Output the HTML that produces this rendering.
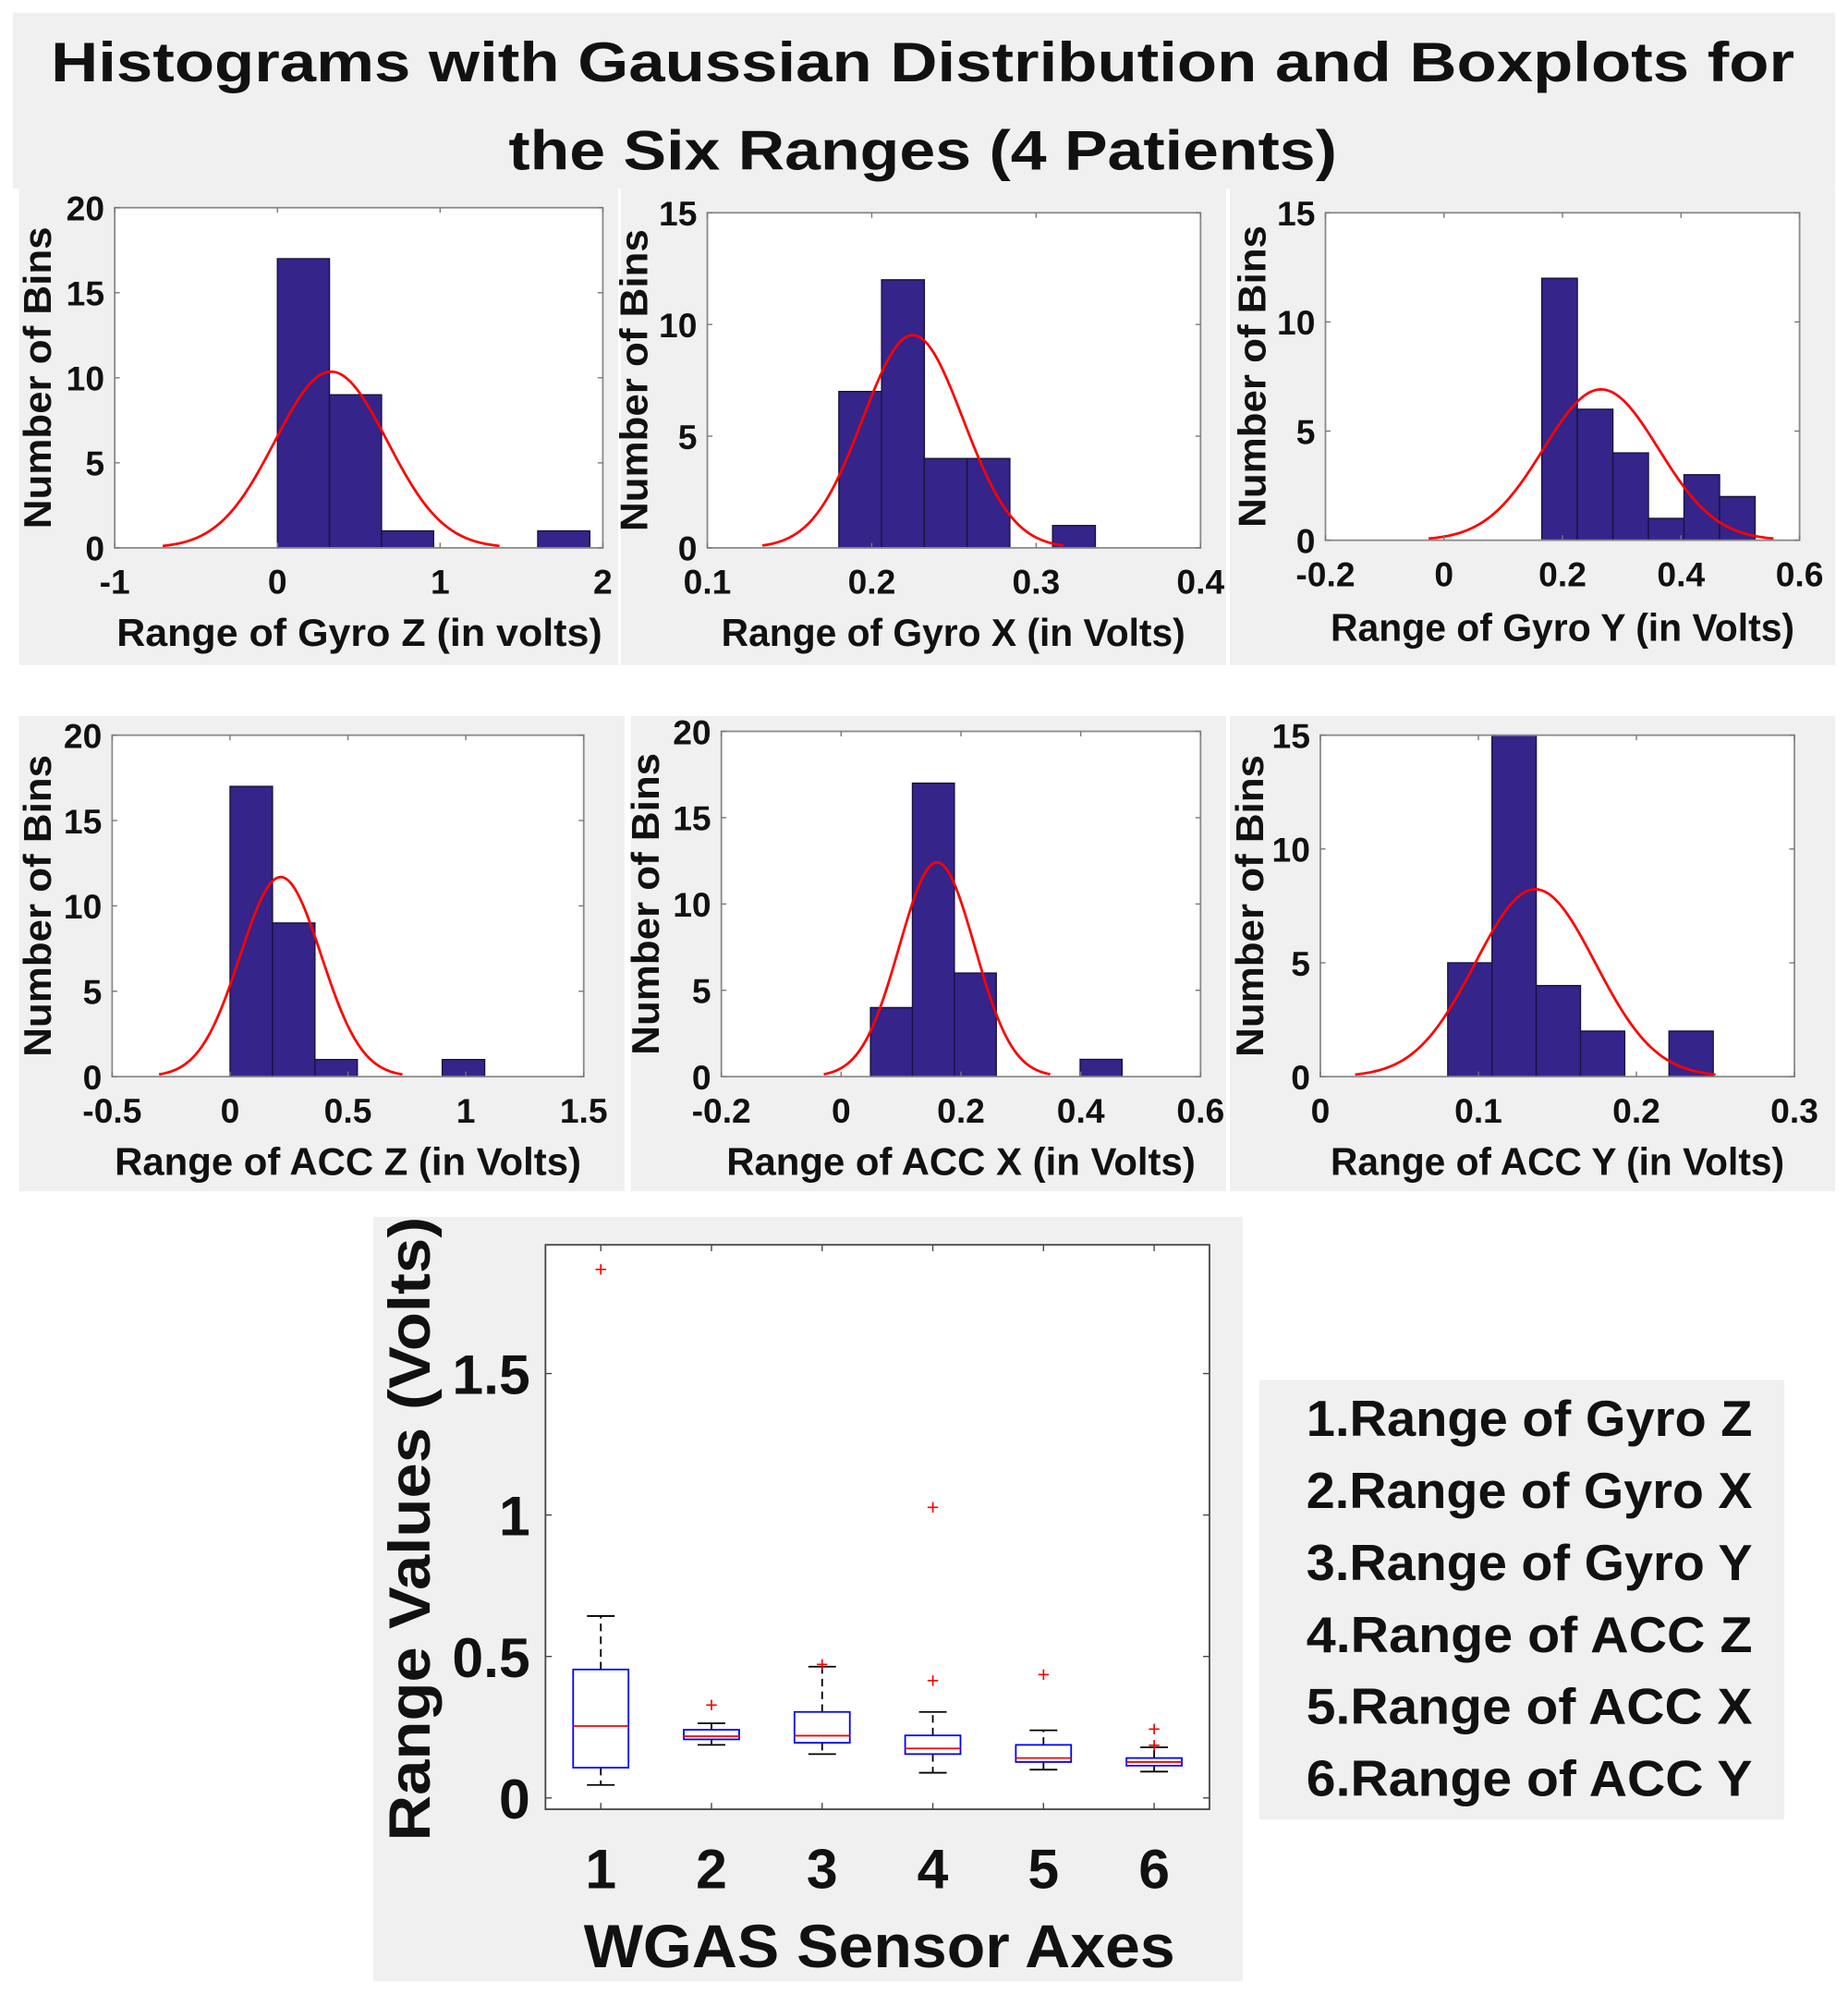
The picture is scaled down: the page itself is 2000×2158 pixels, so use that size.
<!DOCTYPE html>
<html><head><meta charset="utf-8"><style>
html,body{margin:0;padding:0;background:#fff;}
svg{display:block;}
text{font-family:"Liberation Sans",Arial,sans-serif;font-weight:bold;fill:#111;}
</style></head><body>
<svg id="fig" width="2000" height="2158" viewBox="0 0 1450 1565" preserveAspectRatio="none" xmlns="http://www.w3.org/2000/svg">
<rect x="10" y="10" width="1430" height="138" fill="#f0f0f0"/>
<text x="724" y="64" text-anchor="middle" font-size="44" textLength="1368" lengthAdjust="spacingAndGlyphs">Histograms with Gaussian Distribution and Boxplots for</text>
<text x="724" y="133" text-anchor="middle" font-size="44" textLength="650" lengthAdjust="spacingAndGlyphs">the Six Ranges (4 Patients)</text>
<rect x="988" y="1083" width="412" height="345" fill="#f0f0f0"/>
<g id="legend"></g>
</svg>
<script>
// ---- Histogram data ----
const binStarts = [0, 0.18, 0.165, 0, 0.049, 0.0806];
const binWidths = [0.32, 0.026, 0.06, 0.18, 0.07, 0.028];
const counts1 = [17, 9, 1, 0, 0, 1];
const counts2 = [7, 12, 4, 4, 0, 1];
const counts3 = [12, 6, 4, 1, 3, 2];
const counts4 = [17, 9, 1, 0, 0, 1];
const counts5 = [4, 17, 6, 0, 0, 1];
const counts6 = [5, 15, 4, 2, 0, 2];
const fitMu = [0.33, 0.225, 0.265, 0.215, 0.16, 0.136];
const fitSigma = [0.345, 0.0305, 0.097, 0.172, 0.063, 0.038];
const xTicks1 = [-1, 0, 1, 2];
const xTicks2 = [0.1, 0.2, 0.3, 0.4];
const xTicks3 = [-0.2, 0, 0.2, 0.4, 0.6];
const xTicks4 = [-0.5, 0, 0.5, 1, 1.5];
const xTicks5 = [-0.2, 0, 0.2, 0.4, 0.6];
const xTicks6 = [0, 0.1, 0.2, 0.3];
const yTicks1 = [0, 5, 10, 15, 20];
const yTicks2 = [0, 5, 10, 15];
const yTicks3 = [0, 5, 10, 15];
const yTicks4 = [0, 5, 10, 15, 20];
const yTicks5 = [0, 5, 10, 15, 20];
const yTicks6 = [0, 5, 10, 15];
const xLabels = ["Range of Gyro Z (in volts)", "Range of Gyro X (in Volts)", "Range of Gyro Y (in Volts)",
  "Range of ACC Z (in Volts)", "Range of ACC X (in Volts)", "Range of ACC Y (in Volts)"];
// ---- Boxplot data ----
const boxCategories = ["1", "2", "3", "4", "5", "6"];
const whiskerLow = [0.046, 0.1875, 0.155, 0.089, 0.1, 0.093];
const q1Values = [0.107, 0.207, 0.195, 0.155, 0.127, 0.114];
const medians = [0.254, 0.218, 0.22, 0.175, 0.141, 0.127];
const q3Values = [0.454, 0.241, 0.304, 0.221, 0.1875, 0.141];
const whiskerHigh = [0.643, 0.264, 0.464, 0.304, 0.239, 0.179];
const outliers = [[1.87], [0.33], [0.473], [0.416, 1.029], [0.4375], [0.1875, 0.245]];
const boxYTicks = [0, 0.5, 1, 1.5];
const legendItems = ["1.Range of Gyro Z", "2.Range of Gyro X", "3.Range of Gyro Y", "4.Range of ACC Z", "5.Range of ACC X", "6.Range of ACC Y"];

const NS = "http://www.w3.org/2000/svg";
const fig = document.getElementById("fig");
function mk(tag, attrs, parent) {
  const e = document.createElementNS(NS, tag);
  for (const k in attrs) e.setAttribute(k, attrs[k]);
  (parent || fig).appendChild(e);
  return e;
}
const counts = [counts1, counts2, counts3, counts4, counts5, counts6];
const xTicks = [xTicks1, xTicks2, xTicks3, xTicks4, xTicks5, xTicks6];
const yTicks = [yTicks1, yTicks2, yTicks3, yTicks4, yTicks5, yTicks6];
const panelBg = [[15,148,470,374],[487,148,475,374],[965,148,475,374],[15,562,475,373],[495,562,467,373],[965,562,475,373]];
const plotRect = [[90,163,473,430],[555,167,942,430],[1040,167,1412,424],[88,577,458,845],[566,574,942,845],[1036,577,1408,845]];
const xLabelPos = [[282,507],[748,507],[1226,503],[273,922],[754,922],[1222,922]];
const xLabelLen = [381, 364, 364, 366, 368, 356];
const yLabelX = [40, 508, 993, 40, 517, 991];

for (let p = 0; p < 6; p++) {
  const g = mk("g", {});
  
  
  const bg = mk("rect", {x: panelBg[p][0], y: panelBg[p][1], width: panelBg[p][2], height: panelBg[p][3], fill: "#f0f0f0"}, g);
  
  
  const [L, T, R, B] = plotRect[p];
  const xt = xTicks[p], yt = yTicks[p];
  const x0 = xt[0], x1 = xt[xt.length - 1], y0 = yt[0], y1 = yt[yt.length - 1];
  const sx = v => L + (v - x0) / (x1 - x0) * (R - L);
  const sy = v => B - (v - y0) / (y1 - y0) * (B - T);
  const area = mk("rect", {x: L, y: T, width: R - L, height: B - T, fill: "#fff"}, g);
  
  
  const c = counts[p];
  let n = 0;
  c.forEach((v, i) => {
    n += v;
    if (v <= 0) return;
    const a = binStarts[p] + i * binWidths[p], b = a + binWidths[p];
    const r = mk("rect", {x: sx(a), y: sy(v), width: sx(b) - sx(a), height: sy(0) - sy(v), fill: "#352489", stroke: "#1a1240", "stroke-width": 1}, g);
    
    
  });
  const mu = fitMu[p], sd = fitSigma[p];
  const amp = n * binWidths[p] / (sd * Math.sqrt(2 * Math.PI));
  let d = "";
  for (let k = 0; k <= 120; k++) {
    const xv = mu - 3 * sd + 6 * sd * k / 120;
    const yv = amp * Math.exp(-0.5 * ((xv - mu) / sd) ** 2);
    d += (k ? "L" : "M") + sx(xv).toFixed(2) + "," + sy(yv).toFixed(2);
  }
  const curve = mk("path", {d: d, fill: "none", stroke: "#ff0000", "stroke-width": 2}, g);
  
  
  const frame = mk("rect", {x: L, y: T, width: R - L, height: B - T, fill: "none", stroke: "#8a8a8a", "stroke-width": 1.3}, g);
  
  
  xt.forEach(v => {
    mk("line", {x1: sx(v), x2: sx(v), y1: B, y2: B - 4, stroke: "#777"}, g);
    mk("line", {x1: sx(v), x2: sx(v), y1: T, y2: T + 4, stroke: "#777"}, g);
    const t = mk("text", {x: sx(v), y: B + 36, "text-anchor": "middle", "font-size": 27}, g);
    t.textContent = String(v);
    
    
  });
  yt.forEach(v => {
    mk("line", {x1: L, x2: L + 4, y1: sy(v), y2: sy(v), stroke: "#777"}, g);
    mk("line", {x1: R, x2: R - 4, y1: sy(v), y2: sy(v), stroke: "#777"}, g);
    const t = mk("text", {x: L - 8, y: sy(v) + 10, "text-anchor": "end", "font-size": 27}, g);
    t.textContent = String(v);
    
    
  });
  const xl = mk("text", {x: xLabelPos[p][0], y: xLabelPos[p][1], "text-anchor": "middle", "font-size": 30, textLength: xLabelLen[p], lengthAdjust: "spacingAndGlyphs"}, g);
  xl.textContent = xLabels[p];
  
  
  const cy = (T + B) / 2;
  const yl = mk("text", {x: yLabelX[p], y: cy, "text-anchor": "middle", "font-size": 30, textLength: 237, lengthAdjust: "spacingAndGlyphs", transform: "rotate(-90 " + yLabelX[p] + " " + cy + ")"}, g);
  yl.textContent = "Number of Bins";
  
  
}

// ---- Boxplot ----
(function () {
  const g = mk("g", {});
  
  
  const bg = mk("rect", {x: 293, y: 955, width: 682, height: 600, fill: "#f0f0f0"}, g);
  
  
  const L = 428, R = 949, T = 977, B = 1420;
  const xmin = 0.5, xmax = 6.5, ymin = -0.04, ymax = 1.955;
  const sx = v => L + (v - xmin) / (xmax - xmin) * (R - L);
  const sy = v => B - (v - ymin) / (ymax - ymin) * (B - T);
  const area = mk("rect", {x: L, y: T, width: R - L, height: B - T, fill: "#fff", stroke: "#444", "stroke-width": 1.3}, g);
  
  
  boxYTicks.forEach(v => {
    mk("line", {x1: L, x2: L + 5, y1: sy(v), y2: sy(v), stroke: "#444"}, g);
    mk("line", {x1: R, x2: R - 5, y1: sy(v), y2: sy(v), stroke: "#444"}, g);
    const t = mk("text", {x: L - 12, y: sy(v) + 16, "text-anchor": "end", "font-size": 44}, g);
    t.textContent = String(v);
    
    
  });
  boxCategories.forEach((c, i) => {
    const x = sx(i + 1);
    mk("line", {x1: x, x2: x, y1: B, y2: B - 5, stroke: "#444"}, g);
    mk("line", {x1: x, x2: x, y1: T, y2: T + 5, stroke: "#444"}, g);
    const t = mk("text", {x: x, y: 1482, "text-anchor": "middle", "font-size": 44}, g);
    t.textContent = c;
    
    
    const bw = sx(i + 1.25) - x, cw = sx(i + 1.125) - x;
    const w1 = mk("line", {x1: x, x2: x, y1: sy(q3Values[i]), y2: sy(whiskerHigh[i]), stroke: "#000", "stroke-width": 1.3, "stroke-dasharray": "6,4"}, g);
    
    
    const w2 = mk("line", {x1: x, x2: x, y1: sy(q1Values[i]), y2: sy(whiskerLow[i]), stroke: "#000", "stroke-width": 1.3, "stroke-dasharray": "6,4"}, g);
    
    
    mk("line", {x1: x - cw, x2: x + cw, y1: sy(whiskerHigh[i]), y2: sy(whiskerHigh[i]), stroke: "#000", "stroke-width": 1.3}, g);
    mk("line", {x1: x - cw, x2: x + cw, y1: sy(whiskerLow[i]), y2: sy(whiskerLow[i]), stroke: "#000", "stroke-width": 1.3}, g);
    const box = mk("rect", {x: x - bw, y: sy(q3Values[i]), width: 2 * bw, height: sy(q1Values[i]) - sy(q3Values[i]), fill: "none", stroke: "#0000ff", "stroke-width": 1.3}, g);
    
    
    const md = mk("line", {x1: x - bw, x2: x + bw, y1: sy(medians[i]), y2: sy(medians[i]), stroke: "#ff0000", "stroke-width": 1.3}, g);
    
    
    outliers[i].forEach(o => {
      const t = mk("text", {x: x, y: sy(o) + 6, "text-anchor": "middle", "font-size": 17, style: "fill:#ff0000;font-weight:normal"}, g);
      t.textContent = "+";
      
      
    });
  });
  const xl = mk("text", {x: 690, y: 1544, "text-anchor": "middle", "font-size": 48, textLength: 464, lengthAdjust: "spacingAndGlyphs"}, g);
  xl.textContent = "WGAS Sensor Axes";
  
  
  const yl = mk("text", {x: 337, y: 1200, "text-anchor": "middle", "font-size": 46, textLength: 490, lengthAdjust: "spacingAndGlyphs", transform: "rotate(-90 337 1200)"}, g);
  yl.textContent = "Range Values (Volts)";
  
  
})();

// ---- Legend ----
const lg = document.getElementById("legend");
fig.appendChild(lg);
legendItems.forEach((s, i) => {
  const t = mk("text", {x: 1200, y: 1127 + i * 56.5, "text-anchor": "middle", "font-size": 40, textLength: 350, lengthAdjust: "spacingAndGlyphs"}, lg);
  t.textContent = s;
  
  
});
</script>
</body></html>
